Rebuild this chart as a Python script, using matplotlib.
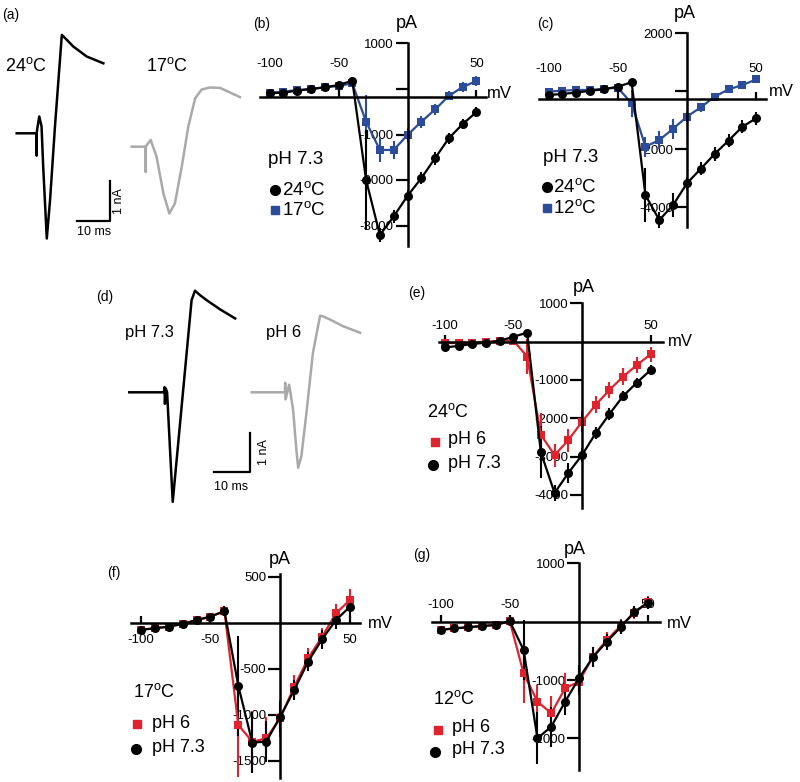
import matplotlib
matplotlib.use('Agg')
import matplotlib.pyplot as plt

plt.rcParams['font.family'] = ['Liberation Sans', 'DejaVu Sans']
plt.rcParams['mathtext.fontset'] = 'custom'
plt.rcParams['mathtext.rm'] = 'Liberation Sans'
plt.rcParams['mathtext.it'] = 'Liberation Sans:italic'
plt.rcParams['mathtext.bf'] = 'Liberation Sans:bold'

# ---------------- data ----------------
V = [-100, -90, -80, -70, -60, -50, -40, -30, -20, -10, 0, 10, 20, 30, 40, 50]

# (b) pH 7.3
b_24 = [-95, -80, -37, 0, 37, 88, 182, -2000, -3210, -2800, -2350, -1960, -1520, -1080, -770, -505]
b_24_err = [60, 50, 50, 50, 50, 60, 80, 1100, 150, 150, 120, 130, 140, 120, 110, 100]
b_17 = [-80, -60, -22, 0, 37, 66, 125, -720, -1340, -1340, -1010, -720, -450, -150, 45, 175]
b_17_err = [50, 50, 50, 50, 50, 60, 60, 590, 270, 190, 150, 130, 120, 100, 100, 110]

# (c) pH 7.3
c_24 = [-140, -100, -57, 10, 57, 150, 300, -3590, -4450, -3930, -3180, -2680, -2170, -1710, -1230, -940]
c_24_err = [100, 80, 80, 80, 80, 100, 100, 920, 290, 400, 230, 230, 230, 230, 230, 230]
c_12 = [-20, 10, 35, 35, 80, 115, -425, -1920, -1690, -1300, -885, -560, -195, 57, 205, 400]
c_12_err = [50, 50, 50, 50, 50, 60, 460, 350, 300, 350, 200, 150, 100, 80, 80, 80]

# (e) 24 C
e_73 = [-150, -110, -60, -25, 25, 130, 235, -2890, -3950, -3430, -2960, -2390, -1890, -1420, -1070, -740]
e_73_err = [80, 60, 60, 60, 60, 80, 80, 680, 220, 260, 180, 150, 150, 130, 130, 130]
e_6 = [-35, -35, -25, -10, 30, 30, -390, -2430, -2960, -2570, -2090, -1650, -1260, -910, -610, -330]
e_6_err = [60, 60, 60, 60, 60, 80, 450, 565, 300, 300, 270, 220, 220, 220, 200, 200]

# (f) 17 C
f_73 = [-80, -63, -45, -16, 27, 63, 125, -690, -1305, -1295, -1025, -735, -425, -183, 27, 172]
f_73_err = [40, 30, 30, 30, 30, 40, 50, 540, 330, 220, 160, 110, 100, 100, 100, 120]
f_6 = [-80, -63, -45, -16, 27, 63, 125, -1115, -1295, -1260, -1040, -700, -390, -155, 100, 245]
f_6_err = [40, 30, 30, 30, 30, 40, 50, 560, 330, 230, 200, 130, 110, 100, 100, 120]

# (g) 12 C
g_73 = [-140, -115, -95, -75, -55, 10, -485, -2000, -1800, -1370, -970, -610, -343, -97, 172, 325]
g_73_err = [40, 30, 30, 30, 30, 30, 515, 445, 345, 230, 230, 170, 140, 120, 100, 100]
g_6 = [-140, -115, -95, -75, -55, 10, -885, -1370, -1570, -1140, -1030, -600, -315, -75, 145, 345]
g_6_err = [40, 30, 30, 30, 30, 30, 515, 290, 290, 260, 230, 170, 140, 120, 100, 100]

# current traces (time in ms, current in nA)
tr_a24_t = [0, 6.1, 6.1, 6.1, 6.4, 6.9, 7.6, 8.1, 9.2, 10.2, 11.7, 13.8, 14.8, 17.3, 21.4, 26.5]
tr_a24_i = [0, 0, -0.55, 0, 0.17, 0.42, 0.17, -0.83, -2.63, -1.67, 0.17, 2.46, 2.38, 2.17, 1.92, 1.75]
tr_a17_t = [0, 4.3, 4.3, 4.3, 4.6, 5.8, 7.6, 9.7, 11.5, 13.2, 15.3, 17.3, 19.4, 21.4, 23.9, 27.0, 33.1]
tr_a17_i = [0, 0, -0.63, 0, 0.04, 0.17, -0.25, -1.17, -1.67, -1.42, -0.5, 0.5, 1.21, 1.43, 1.48, 1.47, 1.24]
tr_d73_t = [0, 9.6, 9.8, 9.9, 10.1, 10.5, 12.06, 17.3, 18.25, 19.6, 21.5, 25.2, 29.4]
tr_d73_i = [0, 0, 0.13, -0.29, 0.1, 0, -2.76, 2.32, 2.56, 2.45, 2.32, 2.09, 1.86]
tr_d6_t = [0, 9.25, 9.3, 9.4, 10.4, 11.5, 12.4, 12.9, 13.8, 15.2, 17.0, 19.0, 19.9, 21.8, 25.5, 30.1]
tr_d6_i = [0, 0, 0.24, -0.18, 0.19, -0.44, -1.44, -1.9, -1.61, -0.52, 0.99, 1.93, 1.91, 1.83, 1.66, 1.5]

SCALE_MS = 10
SCALE_NA = 1

xticks = [-100, -50, 50]
xticklabels = ['-100', '-50', '50']

BLACK = '#000000'
BLUE = '#2b4c9b'
RED = '#e0232d'
GRAY = '#a9a9a9'

# ---------------- figure ----------------
W, H = 800, 782
fig = plt.figure(figsize=(W / 100, H / 100), dpi=100)
fig.patch.set_facecolor('white')

ov = fig.add_axes([0, 0, 1, 1])
ov.set_xlim(0, W)
ov.set_ylim(H, 0)
ov.axis('off')
ov.patch.set_visible(False)
ov.set_zorder(-1)


def txt(x, y, s, size, ha='left', va='center', **kw):
    ov.text(x, y, s, fontsize=size, ha=ha, va=va, color='black', **kw)


def deg(n):
    return n + r'$^{\mathrm{o}}$C'


def iv_panel(x0px, y0px, sx, sy, xlim, ylim, xspine_y, labels_top, xpad,
             yticks, yticklabels, series):
    left = x0px + xlim[0] * sx
    right = x0px + xlim[1] * sx
    top = y0px - ylim[1] * sy
    bottom = y0px - ylim[0] * sy
    ax = fig.add_axes([left / W, 1 - bottom / H, (right - left) / W, (bottom - top) / H])
    ax.set_xlim(xlim)
    ax.set_ylim(ylim)
    ax.patch.set_visible(False)
    ax.spines['right'].set_visible(False)
    if labels_top:
        ax.spines['bottom'].set_visible(False)
        ax.spines['top'].set_position(('data', xspine_y))
        ax.xaxis.set_ticks_position('top')
        ax.tick_params(axis='x', direction='out', length=5, width=1.6, pad=xpad,
                       labelsize=9.5)
        sp = ax.spines['top']
    else:
        ax.spines['top'].set_visible(False)
        ax.spines['bottom'].set_position(('data', xspine_y))
        ax.xaxis.set_ticks_position('bottom')
        ax.tick_params(axis='x', direction='in', length=5, width=1.6, pad=xpad,
                       labelsize=9.5)
        sp = ax.spines['bottom']
    sp.set_linewidth(1.8)
    ax.spines['left'].set_position(('data', 0))
    ax.spines['left'].set_linewidth(1.8)
    ax.yaxis.set_ticks_position('left')
    ax.tick_params(axis='y', direction='out', length=8.5, width=1.6, pad=1.5,
                   labelsize=9.5)
    ax.set_xticks(xticks)
    ax.set_xticklabels(xticklabels)
    ax.set_yticks(yticks)
    ax.set_yticklabels(yticklabels)
    for y, err, color, marker, ms in series:
        cont = ax.errorbar(V, y, yerr=err, color=color, marker=marker, ms=ms,
                           lw=1.6, elinewidth=1.5, capsize=3.2, capthick=1.5,
                           markeredgewidth=0)
        cont[0].set_clip_on(False)
        for a in cont[1]:
            a.set_clip_on(False)
        for a in cont[2]:
            a.set_clip_on(False)
    return ax


def trace_axes(origin, px_ms, px_na, box):
    x0, y0, x1, y1 = box
    ax = fig.add_axes([x0 / W, 1 - y1 / H, (x1 - x0) / W, (y1 - y0) / H])
    ax.set_xlim((x0 - origin[0]) / px_ms, (x1 - origin[0]) / px_ms)
    ax.set_ylim((origin[1] - y1) / px_na, (origin[1] - y0) / px_na)
    ax.axis('off')
    ax.patch.set_visible(False)
    return ax


# ---------------- (a) traces ----------------
ta = trace_axes((16.7, 133.3), 3.27, 40.0, (0, 20, 260, 250))
ta.plot(tr_a24_t, tr_a24_i, color=BLACK, lw=1.8, solid_joinstyle='round')
a17_dt, a17_di = 35.17, -0.335
ta.plot([t + a17_dt for t in tr_a17_t], [i + a17_di for i in tr_a17_i],
        color=GRAY, lw=1.8, solid_joinstyle='round')
sbx, sby = 28.53, -2.185
ta.plot([sbx - SCALE_MS, sbx, sbx], [sby, sby, sby + SCALE_NA], color=BLACK, lw=1.6)
txt(2, 15, '(a)', 10)
txt(5, 66, deg('24'), 13)
txt(146, 66, deg('17'), 13)
txt(94, 232, '10 ms', 9, ha='center')
txt(119, 201, '1 nA', 9, ha='center', rotation=90)

# ---------------- (d) traces ----------------
td = trace_axes((129.3, 392.3), 3.6, 39.7, (90, 270, 380, 520))
td.plot(tr_d73_t, tr_d73_i, color=BLACK, lw=1.8, solid_joinstyle='round')
d6_dt = 34.0
td.plot([t + d6_dt for t in tr_d6_t], tr_d6_i, color=GRAY, lw=1.8, solid_joinstyle='round')
sbx, sby = 33.53, -2.015
td.plot([sbx - SCALE_MS, sbx, sbx], [sby, sby, sby + SCALE_NA], color=BLACK, lw=1.6)
txt(96, 297, '(d)', 10)
txt(125, 333, 'pH 7.3', 12)
txt(266, 332, 'pH 6', 12)
txt(231, 487, '10 ms', 9, ha='center')
txt(264, 452, '1 nA', 9, ha='center', rotation=90)

# ---------------- (b) ----------------
iv_panel(407.5, 89, 1.38, 45.5 / 1000, (-107, 57), (-3450, 1000), -170, True, 14.5,
         [1000, 0, -1000, -2000, -3000], ['1000', '', '-1000', '-2000', '-3000'],
         [(b_17, b_17_err, BLUE, 's', 5.5), (b_24, b_24_err, BLACK, 'o', 6.5)])
txt(253, 24, '(b)', 10)
txt(407, 24, 'pA', 13, ha='center')
txt(487, 93, 'mV', 12)
txt(268, 160, 'pH 7.3', 13.5)
ov.plot([275], [190], marker='o', color=BLACK, ms=7, ls='none')
txt(282, 190, deg('24'), 13.5)
ov.plot([275], [210], marker='s', color=BLUE, ms=6, ls='none')
txt(282, 210, deg('17'), 13.5)

# ---------------- (c) ----------------
iv_panel(687, 91, 1.385, 29 / 1000, (-107, 57), (-4700, 2000), -276, True, 12.4,
         [2000, 0, -2000, -4000], ['2000', '', '-2000', '-4000'],
         [(c_12, c_12_err, BLUE, 's', 5.5), (c_24, c_24_err, BLACK, 'o', 6.5)])
txt(537, 24, '(c)', 10)
txt(685, 13, 'pA', 13, ha='center')
txt(769, 91, 'mV', 12)
txt(543, 157, 'pH 7.3', 13.5)
ov.plot([546.7], [186.7], marker='o', color=BLACK, ms=7, ls='none')
txt(553, 186.7, deg('24'), 13.5)
ov.plot([546.7], [208.3], marker='s', color=BLUE, ms=6, ls='none')
txt(553, 208.3, deg('12'), 13.5)

# ---------------- (e) ----------------
iv_panel(582, 341.7, 1.371, 38.3 / 1000, (-104, 59), (-4340, 1000), 0, True, 2.3,
         [1000, -1000, -2000, -3000, -4000], ['1000', '-1000', '-2000', '-3000', '-4000'],
         [(e_6, e_6_err, RED, 's', 5.5), (e_73, e_73_err, BLACK, 'o', 6.5)])
txt(408, 293, '(e)', 10)
txt(584, 287, 'pA', 13, ha='center')
txt(668, 342, 'mV', 12)
txt(426.7, 412, deg('24'), 13)
ov.plot([435], [441.7], marker='s', color=RED, ms=6, ls='none')
txt(448, 440, 'pH 6', 13)
ov.plot([433.3], [465], marker='o', color=BLACK, ms=7, ls='none')
txt(448, 463, 'pH 7.3', 13)

# ---------------- (f) ----------------
iv_panel(280.2, 622.5, 1.395, 46 / 500, (-107, 57), (-1690, 530), 0, False, 8.4,
         [500, -500, -1000, -1500], ['500', '-500', '-1000', '-1500'],
         [(f_6, f_6_err, RED, 's', 5.5), (f_73, f_73_err, BLACK, 'o', 6.5)])
txt(107, 573, '(f)', 10)
txt(279.5, 560, 'pA', 13, ha='center')
txt(368, 624, 'mV', 12)
txt(133.3, 691.7, deg('17'), 13)
ov.plot([137.3], [724.3], marker='s', color=RED, ms=6, ls='none')
txt(151.7, 723, 'pH 6', 13)
ov.plot([136], [749.3], marker='o', color=BLACK, ms=7, ls='none')
txt(151.7, 748, 'pH 7.3', 13)

# ---------------- (g) ----------------
iv_panel(579, 621.7, 1.385, 58.3 / 1000, (-106, 58.6), (-2540, 1000), 0, True, 2.5,
         [1000, -1000, -2000], ['1000', '-1000', '-2000'],
         [(g_6, g_6_err, RED, 's', 5.5), (g_73, g_73_err, BLACK, 'o', 6.5)])
txt(413, 555, '(g)', 10)
txt(575, 550, 'pA', 13, ha='center')
txt(667, 624, 'mV', 12)
txt(433.3, 699.3, deg('12'), 13)
ov.plot([437.7], [730], marker='s', color=RED, ms=6, ls='none')
txt(451.7, 728, 'pH 6', 13)
ov.plot([435], [751.7], marker='o', color=BLACK, ms=7, ls='none')
txt(451.7, 750, 'pH 7.3', 13)

fig.savefig('out.png', dpi=100, facecolor='white')
